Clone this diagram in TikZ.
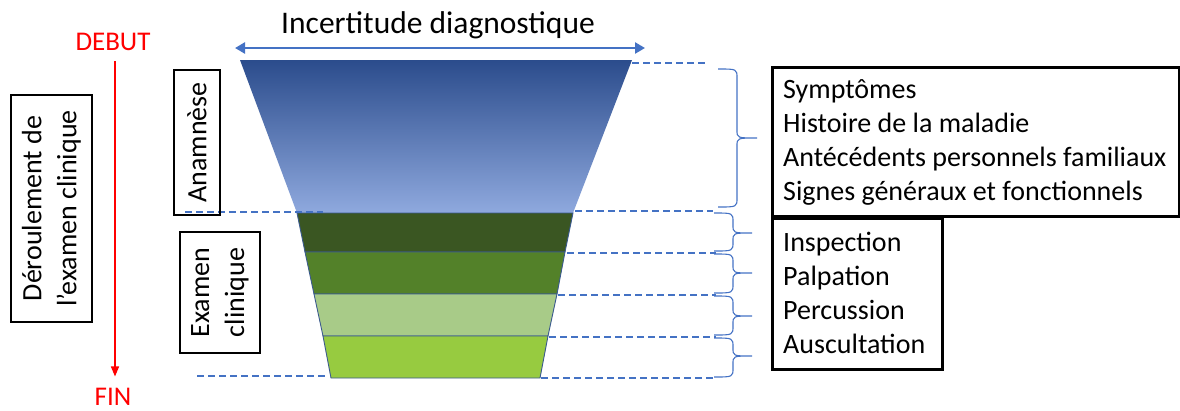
\documentclass[tikz,border=0pt]{standalone}
\usepackage{fontspec}
\setmainfont{Carlito}
\usetikzlibrary{arrows.meta}
\definecolor{accent}{HTML}{4472C4}
\definecolor{blueTop}{HTML}{2B4C8C}
\definecolor{blueMid}{HTML}{4770C4}
\definecolor{blueBot}{HTML}{8FA9DE}
\definecolor{bandA}{HTML}{3A5622}
\definecolor{bandB}{HTML}{538129}
\definecolor{bandC}{HTML}{A8CB88}
\definecolor{bandD}{HTML}{97CB40}
\definecolor{bandEdge}{HTML}{3B5A8E}
\newcommand\mybrc[6]{% tip x, spine x, point x, top y, mid y, bottom y
  \draw[bracestyle] (#1,#4) .. controls (#2,#4) and (#2,#4) .. (#2,{#4+9}) -- (#2,{#5-8})
    .. controls (#2,#5) and (#2,#5) .. (#3,#5)
    .. controls (#2,#5) and (#2,#5) .. (#2,{#5+8}) -- (#2,{#6-9})
    .. controls (#2,#6) and (#2,#6) .. (#1,#6);}
\begin{document}
\begin{tikzpicture}[x=1pt,y=-1pt,
  txt/.style={font=\fontsize{28}{34}\selectfont, inner sep=0pt},
  guide/.style={accent, line width=2pt, dash pattern=on 7pt off 4pt},
  bracestyle/.style={accent, line width=1.1pt},
  band/.style={draw=bandEdge, line width=0.9pt},
  rbox/.style={draw=black, line width=2.5pt, inner sep=0pt},
  lbox/.style={draw=black, line width=1.5pt, inner sep=0pt, rotate=90, align=center,
    font=\fontsize{28}{35}\selectfont}]
\useasboundingbox (0,0) rectangle (1180,410);

% title and double arrow
\node[txt, anchor=base, font=\fontsize{31.5}{36}\selectfont] (title) at (438,33) {Incertitude diagnostique};
\coordinate (uL) at (235,48);
\coordinate (uR) at (645,48);
\draw[accent, line width=2.5pt, {Triangle[width=11pt,length=10pt]}-{Triangle[width=11pt,length=10pt]}] (uL) -- (uR);

% guide lines behind funnel
\draw[guide] (575,211) -- (713,211);
\draw[guide] (632,63) -- (708,63);

% funnel
\shade[top color=blueTop, middle color=blueMid, bottom color=blueBot]
  (240,60) -- (632,60) -- (573,213) -- (297,213) -- cycle;
\filldraw[band, fill=bandA] (297,213) -- (573,213) -- (565,252) -- (305,252) -- cycle;
\filldraw[band, fill=bandB] (305,252) -- (565,252) -- (557,294) -- (314,294) -- cycle;
\filldraw[band, fill=bandC] (314,294) -- (557,294) -- (548,336) -- (323,336) -- cycle;
\filldraw[band, fill=bandD] (323,336) -- (548,336) -- (540,378) -- (331,378) -- cycle;

% guide lines
\draw[guide] (185,212) -- (323,212);
\draw[guide] (567,253) -- (716,253);
\draw[guide] (558,295) -- (716,295);
\draw[guide] (549,337) -- (716,337);
\draw[guide] (541,378) -- (714,378);
\draw[guide] (197,376) -- (328,376);

% braces
\mybrc{718}{737}{757}{69}{138}{207}
\mybrc{714}{733}{752}{213}{233}{251}
\mybrc{714}{733}{752}{254}{273}{293}
\mybrc{714}{733}{752}{296}{316}{335}
\mybrc{714}{733}{752}{338}{356}{377}

% right boxes
\node[rbox, anchor=north west, minimum width=407pt, minimum height=149pt] (boxA) at (771,66) {};
\node[rbox, anchor=north west, minimum width=170pt, minimum height=151pt] (boxB) at (771,217) {};
\node[txt, anchor=base west] (a1) at (783,98) {Symptômes};
\node[txt, anchor=base west] (a2) at (783,132) {Histoire de la maladie};
\node[txt, anchor=base west] (a3) at (783,166) {Antécédents personnels familiaux};
\node[txt, anchor=base west] (a4) at (783,200) {Signes généraux et fonctionnels};
\node[txt, anchor=base west] (b1) at (783,251) {Inspection};
\node[txt, anchor=base west] (b2) at (783,285) {Palpation};
\node[txt, anchor=base west] (b3) at (783,319) {Percussion};
\node[txt, anchor=base west] (b4) at (783,353) {Auscultation};

% left boxes
\node[lbox, minimum width=227pt, minimum height=81pt] (deroul) at (51.5,208.5) {Déroulement de\\l’examen clinique};
\node[lbox, minimum width=145pt, minimum height=46pt] (anam) at (197,142.5) {Anamnèse};
\node[lbox, minimum width=121pt, minimum height=80pt] (exam) at (220,292.5) {Examen\\clinique};

% DEBUT / FIN
\node[txt, anchor=base, red, font=\fontsize{27}{30}\selectfont] (debut) at (113,50) {DEBUT};
\node[txt, anchor=base, red, font=\fontsize{27}{30}\selectfont] (fin) at (113,405) {FIN};
\draw[red, line width=1.3pt, -{Triangle[width=8pt,length=10pt]}]
  ([xshift=2pt,yshift=-11pt]debut.south) -- ([xshift=2pt,yshift=11pt]fin.north);
\end{tikzpicture}
\end{document}
